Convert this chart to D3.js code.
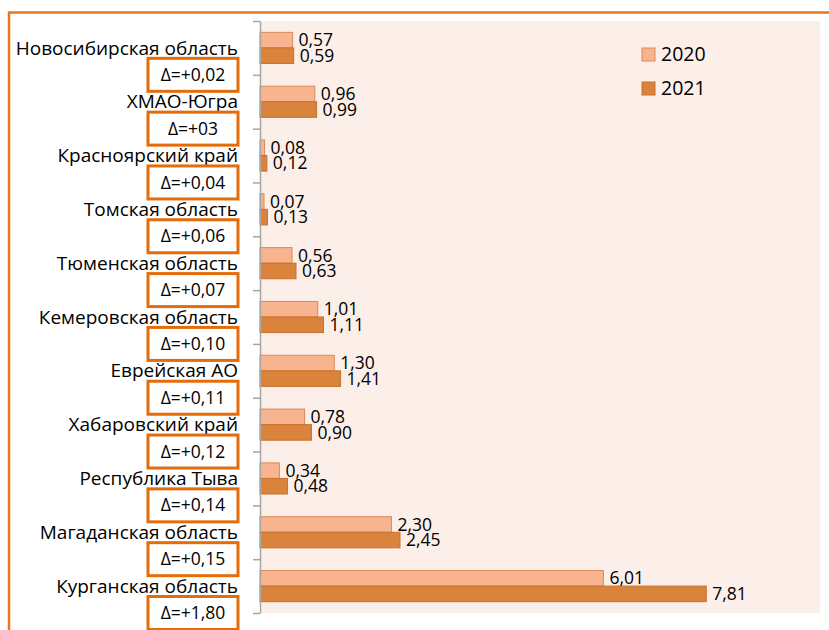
<!DOCTYPE html>
<html><head><meta charset="utf-8">
<script src="https://cdn.jsdelivr.net/npm/d3@7"></script>
<style>
html,body{margin:0;padding:0;background:#fff;}
svg{display:block;}
text{font-family:"Open Sans",sans-serif;fill:#000;}
</style></head>
<body>
<svg id="chart" width="829" height="630"></svg>
<script>
const categories = ["Новосибирская область","ХМАО-Югра","Красноярский край","Томская область","Тюменская область","Кемеровская область","Еврейская АО","Хабаровский край","Республика Тыва","Магаданская область","Курганская область"];
const series = ["2020","2021"];
const values2020 = [0.57,0.96,0.08,0.07,0.56,1.01,1.30,0.78,0.34,2.30,6.01];
const values2021 = [0.59,0.99,0.12,0.13,0.63,1.11,1.41,0.90,0.48,2.45,7.81];
const deltas = ["Δ=+0,02","Δ=+03","Δ=+0,04","Δ=+0,06","Δ=+0,07","Δ=+0,10","Δ=+0,11","Δ=+0,12","Δ=+0,14","Δ=+0,15","Δ=+1,80"];

const fills = {"2020":"#F8B48F","2021":"#D9833D"};
const strokes = {"2020":"#D98A55","2021":"#C8702C"};
const svg = d3.select("#chart");
const plot = {left:260,right:820,top:21,bottom:613};

// outer border
svg.append("rect").attr("x",9).attr("y",12.5).attr("width",900).attr("height",700)
  .attr("fill","none").attr("stroke","#E87722").attr("stroke-width",2.5);

// plot background
svg.append("rect").attr("x",plot.left).attr("y",plot.top)
  .attr("width",plot.right-plot.left).attr("height",plot.bottom-plot.top).attr("fill","#FCEEE9");

const x = d3.scaleLinear().domain([0,9.8]).range([plot.left,plot.right]);
const y = d3.scaleBand().domain(categories).range([plot.top,plot.bottom]).padding(0);
const ySub = d3.scaleBand().domain(series).range([0,y.bandwidth()]).paddingInner(0).paddingOuter(0.73);
const fmt = v => d3.format(".2f")(v).replace(".",",");

const data = categories.map((c,i)=>({cat:c, vals:[{s:"2020",v:values2020[i]},{s:"2021",v:values2021[i]}], delta:deltas[i]}));

const g = svg.append("g").selectAll("g").data(data).join("g")
  .attr("transform",d=>`translate(0,${y(d.cat)})`);
g.selectAll("rect").data(d=>d.vals).join("rect")
  .attr("x",x(0)).attr("y",d=>ySub(d.s)).attr("width",d=>x(d.v)-x(0)).attr("height",ySub.bandwidth())
  .attr("fill",d=>fills[d.s]).attr("stroke",d=>strokes[d.s]).attr("stroke-width",1);
g.selectAll("text.val").data(d=>d.vals).join("text").attr("class","val")
  .attr("x",d=>x(d.v)+6).attr("y",d=>ySub(d.s)+ySub.bandwidth()/2).attr("dy","0.35em")
  .attr("font-size",17.5).text(d=>fmt(d.v));

// axis with ticks at category boundaries
const yIdx = d3.scaleLinear().domain([0,categories.length]).range([plot.top,plot.bottom]);
const ax = svg.append("g").attr("transform",`translate(${plot.left},0)`)
  .call(d3.axisLeft(yIdx).tickValues(d3.range(categories.length+1)).tickFormat("").tickSize(7).tickSizeOuter(0));
ax.selectAll("path,line").attr("stroke","#A6A6A6").attr("stroke-width",1.5);

// category labels
svg.append("g").selectAll("text").data(data).join("text")
  .attr("x",238).attr("y",d=>y(d.cat)+y.bandwidth()/2).attr("dy","0.35em")
  .attr("text-anchor","end").attr("font-size",19).text(d=>d.cat);

// delta boxes
const db = svg.append("g").selectAll("g").data(data).join("g")
  .attr("transform",d=>`translate(193,${y(d.cat)+y.bandwidth()})`);
db.append("rect").attr("x",-45).attr("y",-16.5).attr("width",90).attr("height",33)
  .attr("fill","#fff").attr("stroke","#E46C0A").attr("stroke-width",3);
db.append("text").attr("text-anchor","middle").attr("dy","0.35em").attr("font-size",17.5).text(d=>d.delta);

// legend
const lg = svg.append("g").selectAll("g").data(series).join("g")
  .attr("transform",(d,i)=>`translate(642,${48+i*34})`);
lg.append("rect").attr("width",13).attr("height",13).attr("fill",d=>fills[d]).attr("stroke",d=>strokes[d]);
lg.append("text").attr("x",19).attr("y",6.5).attr("dy","0.35em").attr("font-size",19.5).text(d=>d);
</script>
</body></html>
